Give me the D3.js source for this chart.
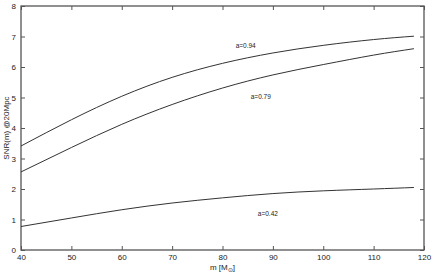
<!DOCTYPE html>
<html>
<head>
<meta charset="utf-8" />
<title>SNR vs mass</title>
<script src="https://d3js.org/d3.v7.min.js"></script>
<style>
    body { margin:0; background:#fff; }
    svg text { font-family: "Liberation Sans", Arial, sans-serif; fill:#222; }
    .curve { fill:none; stroke:#333; stroke-width:1; }
</style>
</head>
<body>
<svg id="chart" width="436" height="273"></svg>
<script>
// chart data
var masses = [40, 50, 60, 70, 80, 90, 100, 110, 118];
var snr094 = [3.41, 4.27, 5.04, 5.66, 6.12, 6.46, 6.71, 6.90, 7.01];
var snr079 = [2.56, 3.36, 4.12, 4.77, 5.31, 5.74, 6.08, 6.39, 6.60];
var snr042 = [0.77, 1.05, 1.32, 1.54, 1.71, 1.85, 1.94, 2.00, 2.05];
var xTicks = [40, 50, 60, 70, 80, 90, 100, 110, 120];
var yTicks = [0, 1, 2, 3, 4, 5, 6, 7, 8];
var labels = [
    {text:"a=0.94", m:84.6, v:6.70},
    {text:"a=0.79", m:87.6, v:5.01},
    {text:"a=0.42", m:89, v:1.2}
];

var svg = d3.select("#chart"),
    margin = {top: 6, right: 12, bottom: 23, left: 21},
    width = +svg.attr("width") - margin.left - margin.right,
    height = +svg.attr("height") - margin.top - margin.bottom;

var x = d3.scaleLinear().domain([40, 120]).range([0, width]),
    y = d3.scaleLinear().domain([0, 8]).range([height, 0]);

var g = svg.append("g")
    .attr("transform", "translate(" + margin.left + "," + margin.top + ")");

// frame
g.append("rect")
    .attr("width", width).attr("height", height)
    .attr("fill", "none").attr("stroke", "#555").attr("stroke-width", 1.3);

function styleAxis(sel, showText) {
    sel.select(".domain").remove();
    sel.selectAll(".tick line").attr("stroke", "#555");
    sel.selectAll(".tick text").style("font-size", "8px").attr("fill", "#222");
    if (!showText) sel.selectAll(".tick text").remove();
}

g.append("g")
    .attr("transform", "translate(0," + height + ")")
    .call(d3.axisBottom(x).tickValues(xTicks).tickSize(-4).tickPadding(4))
    .call(styleAxis, true);
g.append("g")
    .call(d3.axisTop(x).tickValues(xTicks).tickSize(-4))
    .call(styleAxis, false);
g.append("g")
    .call(d3.axisLeft(y).tickValues(yTicks).tickSize(-4).tickPadding(5))
    .call(styleAxis, true);
g.append("g")
    .attr("transform", "translate(" + width + ",0)")
    .call(d3.axisRight(y).tickValues(yTicks).tickSize(-4))
    .call(styleAxis, false);

var line = d3.line()
    .x(function(d) { return x(d[0]); })
    .y(function(d) { return y(d[1]); })
    .curve(d3.curveNatural);

[snr094, snr079, snr042].forEach(function(s) {
    g.append("path")
        .attr("class", "curve")
        .attr("d", line(d3.zip(masses, s)));
});

g.selectAll(".lbl")
    .data(labels)
    .enter().append("text")
    .attr("x", function(d) { return x(d.m); })
    .attr("y", function(d) { return y(d.v); })
    .attr("text-anchor", "middle")
    .attr("dy", "0.35em")
    .style("font-size", "6.5px")
    .text(function(d) { return d.text; });

// axis titles
var xt = svg.append("text")
    .attr("x", margin.left + width / 2)
    .attr("y", 270)
    .attr("text-anchor", "middle")
    .style("font-size", "8px");
xt.append("tspan").text("m [M");
xt.append("tspan").attr("dy", 2).style("font-size", "6px").text("\u2299");
xt.append("tspan").attr("dy", -2).text("]");

svg.append("text")
    .attr("transform", "translate(9," + (margin.top + height / 2) + ") rotate(-90)")
    .attr("text-anchor", "middle")
    .style("font-size", "8px")
    .text("SNR(m) @20Mpc");
</script>
</body>
</html>
